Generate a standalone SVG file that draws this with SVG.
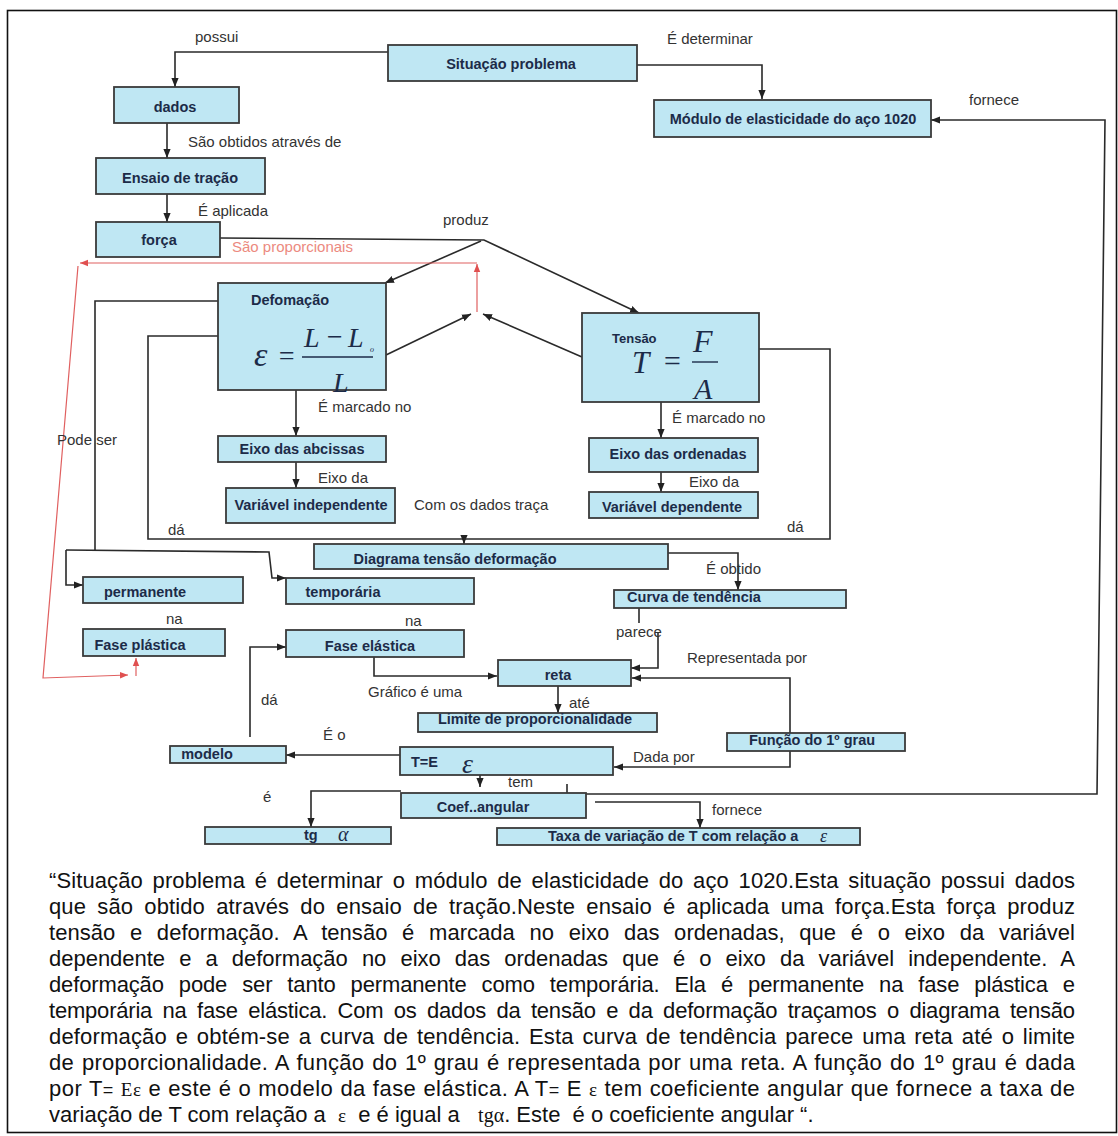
<svg xmlns="http://www.w3.org/2000/svg" width="1118" height="1136" viewBox="0 0 1118 1136">
<defs>
<style>
.box{fill:#bfe7f3;stroke:#3a3a3a;stroke-width:1.8}
.bt{font-family:"Liberation Sans",Arial,sans-serif;font-weight:bold;font-size:14.5px;fill:#1c2b48;text-anchor:middle}
.lb{font-family:"Liberation Sans",Arial,sans-serif;font-size:15px;fill:#333}
.math{font-family:"Liberation Serif","Times New Roman",serif;font-style:italic;fill:#1c2b48}
.ln{fill:none;stroke:#2a2a2a;stroke-width:1.6}
.rd{fill:none;stroke:#e06060;stroke-width:1.2}
.par{font-family:"Liberation Sans",Arial,sans-serif;font-size:22px;fill:#111}
.ser{font-family:"Liberation Serif","Times New Roman",serif}
</style>
<marker id="ah" viewBox="0 0 10 10" refX="10" refY="5" markerWidth="9" markerHeight="9" markerUnits="userSpaceOnUse" orient="auto"><path d="M0,1 L10,5 L0,9 z" fill="#222"/></marker>
<marker id="ahr" viewBox="0 0 10 10" refX="10" refY="5" markerWidth="8" markerHeight="8" markerUnits="userSpaceOnUse" orient="auto"><path d="M0,1 L10,5 L0,9 z" fill="#e05050"/></marker>
</defs>
<rect x="0" y="0" width="1118" height="1136" fill="#fff"/>
<rect x="7.5" y="10.5" width="1109" height="1122" fill="none" stroke="#111" stroke-width="1.6"/>

<g id="connectors">
<path class="ln" d="M388,52 H175 V87" marker-end="url(#ah)"/>
<path class="ln" d="M637,65 H762 V99" marker-end="url(#ah)"/>
<path class="ln" d="M167,123 V158" marker-end="url(#ah)"/>
<path class="ln" d="M167,194 V222" marker-end="url(#ah)"/>
<path class="ln" d="M220,238 L484,240 L639,313" marker-end="url(#ah)"/>
<path class="ln" d="M481,241 L385,283" marker-end="url(#ah)"/>
<path class="ln" d="M386,355 L471,314" marker-end="url(#ah)"/>
<path class="ln" d="M582,357 L483,314" marker-end="url(#ah)"/>
<path class="ln" d="M296,390 V436" marker-end="url(#ah)"/>
<path class="ln" d="M296,462 V488" marker-end="url(#ah)"/>
<path class="ln" d="M661,402 V438" marker-end="url(#ah)"/>
<path class="ln" d="M661,472 V492" marker-end="url(#ah)"/>
<path class="ln" d="M218,301 H95 V550"/>
<path class="ln" d="M66,550 L269,552 L272,578 H286" marker-end="url(#ah)"/>
<path class="ln" d="M66,550 V585 H83" marker-end="url(#ah)"/>
<path class="ln" d="M218,336 H148 V539 H464 V544" marker-end="url(#ah)"/>
<path class="ln" d="M759,349 H830 V539 H464"/>
<path class="ln" d="M668,553 H738 V590" marker-end="url(#ah)"/>
<path class="ln" d="M639,608 V623"/>
<path class="ln" d="M658,633 V668 H631" marker-end="url(#ah)"/>
<path class="ln" d="M374,657 V676 H497" marker-end="url(#ah)"/>
<path class="ln" d="M558,686 V713" marker-end="url(#ah)"/>
<path class="ln" d="M790,733 V678 H632" marker-end="url(#ah)"/>
<path class="ln" d="M790,751 V767 H614" marker-end="url(#ah)"/>
<path class="ln" d="M400,755 H286" marker-end="url(#ah)"/>
<path class="ln" d="M250,737 V647 H286" marker-end="url(#ah)"/>
<path class="ln" d="M480,775 V787" marker-end="url(#ah)"/>
<path class="ln" d="M401,791 H311 V827" marker-end="url(#ah)"/>
<path class="ln" d="M595,802 H700 V828" marker-end="url(#ah)"/>
<path class="ln" d="M567,784 V794 H1097 L1105,120 H931" marker-end="url(#ah)"/>
<path class="rd" d="M477,312 V264" marker-end="url(#ahr)"/>
<path class="rd" d="M477,263 H80" marker-end="url(#ahr)"/>
<path class="rd" d="M78,266 L43,678 L128,675" marker-end="url(#ahr)"/>
<path class="rd" d="M136,676 V658" marker-end="url(#ahr)"/>
</g>

<g id="labels">
<text class="lb" x="195" y="42">possui</text>
<text class="lb" x="667" y="44">É determinar</text>
<text class="lb" x="969" y="105">fornece</text>
<text class="lb" x="188" y="147">São obtidos através de</text>
<text class="lb" x="198" y="216">É aplicada</text>
<text class="lb" x="443" y="225">produz</text>
<text class="lb" x="232" y="252" style="fill:#ec8a80">São proporcionais</text>
<text class="lb" x="318" y="412">É marcado no</text>
<text class="lb" x="318" y="483">Eixo da</text>
<text class="lb" x="672" y="423">É marcado no</text>
<text class="lb" x="689" y="487">Eixo da</text>
<text class="lb" x="414" y="510">Com os dados traça</text>
<text class="lb" x="57" y="445">Pode ser</text>
<text class="lb" x="168" y="535">dá</text>
<text class="lb" x="787" y="532">dá</text>
<text class="lb" x="706" y="574">É obtido</text>
<text class="lb" x="166" y="624">na</text>
<text class="lb" x="405" y="626">na</text>
<text class="lb" x="616" y="637">parece</text>
<text class="lb" x="687" y="663">Representada por</text>
<text class="lb" x="368" y="697">Gráfico é uma</text>
<text class="lb" x="261" y="705">dá</text>
<text class="lb" x="569" y="708">até</text>
<text class="lb" x="323" y="740">É o</text>
<text class="lb" x="633" y="762">Dada por</text>
<text class="lb" x="508" y="787">tem</text>
<text class="lb" x="263" y="802">é</text>
<text class="lb" x="712" y="815">fornece</text>
</g>

<g id="n-situacao"><rect class="box" x="388" y="45" width="249" height="36"/><text class="bt" x="511" y="69">Situação problema</text></g>
<g id="n-dados"><rect class="box" x="114" y="87" width="125" height="36"/><text class="bt" x="175" y="112">dados</text></g>
<g id="n-modulo"><rect class="box" x="654" y="100" width="277" height="37"/><text class="bt" x="793" y="124">Módulo de elasticidade do aço 1020</text></g>
<g id="n-ensaio"><rect class="box" x="96" y="158" width="169" height="36"/><text class="bt" x="180" y="183">Ensaio de tração</text></g>
<g id="n-forca"><rect class="box" x="96" y="222" width="124" height="35"/><text class="bt" x="159" y="245">força</text></g>
<g id="n-deformacao"><rect class="box" x="218" y="283" width="168" height="107"/>
<text class="bt" x="290" y="305">Defomação</text>
<text class="math" x="254" y="366" font-size="34">ε</text>
<text class="math" x="277" y="365" font-size="28" font-style="normal">=</text>
<text class="math" x="304" y="347" font-size="28">L</text>
<text class="math" x="325" y="346" font-size="28" font-style="normal">−</text>
<text class="math" x="348" y="347" font-size="28">L</text>
<text class="math" x="370" y="352" font-size="8">o</text>
<line x1="302" y1="357" x2="373" y2="357" stroke="#1c2b48" stroke-width="1.4"/>
<text class="math" x="333" y="392" font-size="28">L</text>
</g>
<g id="n-tensao"><rect class="box" x="582" y="313" width="177" height="89"/>
<text class="bt" x="612" y="343" style="text-anchor:start;font-size:13px">Tensão</text>
<text class="math" x="632" y="373" font-size="31">T</text>
<text class="math" x="662" y="371" font-size="30" font-style="normal">=</text>
<text class="math" x="693" y="352" font-size="32">F</text>
<line x1="692" y1="362" x2="718" y2="362" stroke="#1c2b48" stroke-width="1.4"/>
<text class="math" x="694" y="399" font-size="30">A</text>
</g>
<g id="n-eixo-abcissas"><rect class="box" x="218" y="436" width="168" height="26"/><text class="bt" x="302" y="454">Eixo das abcissas</text></g>
<g id="n-var-independente"><rect class="box" x="226" y="488" width="169" height="35"/><text class="bt" x="311" y="510">Variável independente</text></g>
<g id="n-eixo-ordenadas"><rect class="box" x="589" y="438" width="169" height="34"/><text class="bt" x="678" y="459">Eixo das ordenadas</text></g>
<g id="n-var-dependente"><rect class="box" x="589" y="492" width="169" height="26"/><text class="bt" x="672" y="512">Variável dependente</text></g>
<g id="n-diagrama"><rect class="box" x="314" y="544" width="354" height="25"/><text class="bt" x="455" y="564">Diagrama tensão deformação</text></g>
<g id="n-permanente"><rect class="box" x="83" y="577" width="160" height="26"/><text class="bt" x="145" y="597">permanente</text></g>
<g id="n-temporaria"><rect class="box" x="286" y="578" width="188" height="26"/><text class="bt" x="343" y="597">temporária</text></g>
<g id="n-curva"><rect class="box" x="614" y="590" width="232" height="18"/><text class="bt" x="694" y="602">Curva de tendência</text></g>
<g id="n-fase-plastica"><rect class="box" x="83" y="629" width="142" height="27"/><text class="bt" x="140" y="650">Fase plástica</text></g>
<g id="n-fase-elastica"><rect class="box" x="286" y="630" width="178" height="27"/><text class="bt" x="370" y="651">Fase elástica</text></g>
<g id="n-reta"><rect class="box" x="498" y="660" width="133" height="26"/><text class="bt" x="558" y="680">reta</text></g>
<g id="n-limite"><rect class="box" x="418" y="713" width="239" height="19"/><text class="bt" x="535" y="724">Limite de proporcionalidade</text></g>
<g id="n-funcao"><rect class="box" x="727" y="733" width="178" height="18"/><text class="bt" x="812" y="745">Função do 1º grau</text></g>
<g id="n-modelo"><rect class="box" x="170" y="746" width="116" height="17"/><text class="bt" x="207" y="759">modelo</text></g>
<g id="n-tee"><rect class="box" x="400" y="747" width="213" height="28"/><text class="bt" x="411" y="767" style="text-anchor:start">T=E</text><text class="math" x="462" y="773" font-size="28">ε</text></g>
<g id="n-coef"><rect class="box" x="401" y="793" width="185" height="25"/><text class="bt" x="483" y="812">Coef..angular</text></g>
<g id="n-tg"><rect class="box" x="205" y="827" width="186" height="17"/><text class="bt" x="304" y="840" style="text-anchor:start">tg</text><text class="math" x="338" y="841" font-size="20">α</text></g>
<g id="n-taxa"><rect class="box" x="497" y="828" width="363" height="17"/><text class="bt" x="548" y="841" style="text-anchor:start">Taxa de variação de T com relação a</text><text class="math" x="820" y="842" font-size="18">ε</text></g>

<g id="paragraph">
<text class="par" x="49" y="888" word-spacing="3.5" textLength="1026" lengthAdjust="spacing">“Situação problema é determinar o módulo de elasticidade do aço 1020.Esta situação possui dados</text>
<text class="par" x="49" y="914" word-spacing="5" textLength="1026" lengthAdjust="spacing">que são obtido através do ensaio de tração.Neste ensaio é aplicada uma força.Esta força produz</text>
<text class="par" x="49" y="940" word-spacing="8.5" textLength="1026" lengthAdjust="spacing">tensão e deformação. A tensão é marcada no eixo das ordenadas, que é o eixo da variável</text>
<text class="par" x="49" y="966" word-spacing="8" textLength="1026" lengthAdjust="spacing">dependente e a deformação no eixo das ordenadas que é o eixo da variável independente. A</text>
<text class="par" x="49" y="992" word-spacing="9" textLength="1026" lengthAdjust="spacing">deformação pode ser tanto permanente como temporária. Ela é permanente na fase plástica e</text>
<text class="par" x="49" y="1018" word-spacing="4.5" textLength="1026" lengthAdjust="spacing">temporária na fase elástica. Com os dados da tensão e da deformação traçamos o diagrama tensão</text>
<text class="par" x="49" y="1044" word-spacing="2.5" textLength="1026" lengthAdjust="spacing">deformação e obtém-se a curva de tendência. Esta curva de tendência parece uma reta até o limite</text>
<text class="par" x="49" y="1070" word-spacing="1.5" textLength="1026" lengthAdjust="spacing">de proporcionalidade. A função do 1º grau é representada por uma reta. A função do 1º grau é dada</text>
<text class="par" x="49" y="1096" word-spacing="0.5" textLength="1026" lengthAdjust="spacing">por  T<tspan font-size="18">=</tspan> <tspan class="ser" font-size="19">Eε</tspan>  e este é o modelo da fase elástica. A T<tspan font-size="18">=</tspan> E <tspan class="ser" font-size="19">ε</tspan> tem coeficiente angular que fornece a taxa de</text>
<text class="par" x="49" y="1122" style="white-space:pre">variação de T com relação a  <tspan class="ser" font-size="19">ε</tspan>  e é igual a   <tspan class="ser" font-size="20">tgα</tspan>. Este  é o coeficiente angular “.</text>
</g>
</svg>
